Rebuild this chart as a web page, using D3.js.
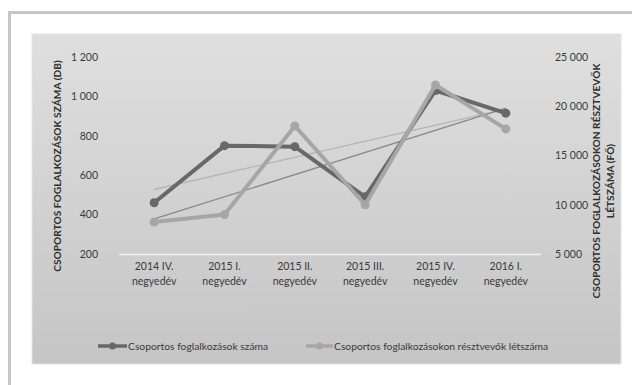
<!DOCTYPE html>
<html>
<head>
<meta charset="utf-8">
<script src="https://cdn.jsdelivr.net/npm/d3@7"></script>
<style>
  html, body { margin: 0; padding: 0; background: #fff; }
  svg { display: block; font-family: Lato, "Open Sans", sans-serif; }
</style>
</head>
<body>
<svg id="chart" width="632" height="385"></svg>
<script>
// Quarters on the x axis
const categories = [
  ["2014 IV.", "negyedév"],
  ["2015 I.", "negyedév"],
  ["2015 II.", "negyedév"],
  ["2015 III.", "negyedév"],
  ["2015 IV.", "negyedév"],
  ["2016 I.", "negyedév"]
];
// Number of group sessions (left axis, db)
const sessions = [460, 750, 745, 490, 1030, 915];
// Participants of group sessions (right axis, fő)
const participants = [8250, 9000, 18000, 10000, 22150, 17700];
const leftTicks = [200, 400, 600, 800, 1000, 1200];
const rightTicks = [5000, 10000, 15000, 20000, 25000];
const seriesNames = ["Csoportos foglalkozások száma", "Csoportos foglalkozásokon résztvevők létszáma"];

const svg = d3.select("#chart");
const fmt = v => d3.format(",")(v).replace(/,/g, " ");

// outer frame
svg.append("path")
  .attr("d", "M9.5,385 V12.5 H632")
  .attr("fill", "none").attr("stroke", "#c6c6c6").attr("stroke-width", 3);

// chart area background gradient
const defs = svg.append("defs");
const grad = defs.append("linearGradient").attr("id", "bg").attr("x1", 0).attr("y1", 0).attr("x2", 0).attr("y2", 1);
grad.append("stop").attr("offset", "0%").attr("stop-color", "#dfdfdf");
grad.append("stop").attr("offset", "100%").attr("stop-color", "#c5c5c5");
const soft = defs.append("filter").attr("id", "soft").attr("x", "-5%").attr("y", "-5%").attr("width", "110%").attr("height", "110%");
soft.append("feGaussianBlur").attr("stdDeviation", 0.6);

svg.append("rect").attr("x", 32).attr("y", 34).attr("width", 589).attr("height", 330)
  .attr("fill", "url(#bg)").attr("stroke", "#e4e4e4").attr("stroke-width", 1);

const x = d3.scaleBand().domain(d3.range(categories.length)).range([119, 541]);
const yL = d3.scaleLinear().domain([200, 1200]).range([254, 57]);
const yR = d3.scaleLinear().domain([5000, 25000]).range([254, 57]);
const cx = i => x(i) + x.bandwidth() / 2;

// baseline
svg.append("line").attr("x1", 119).attr("x2", 541).attr("y1", 254.5).attr("y2", 254.5)
  .attr("stroke", "#f2f2f2").attr("stroke-width", 1.5);

// left axis
const gL = svg.append("g").attr("transform", "translate(98,0)")
  .call(d3.axisLeft(yL).tickValues(leftTicks).tickFormat(fmt).tickSize(0).tickPadding(0));
gL.select(".domain").remove();
gL.selectAll("text").attr("fill", "#3a3a3a").attr("font-size", 10.5).style("font-family", "Lato, sans-serif");

// right axis
const gR = svg.append("g").attr("transform", "translate(555,0)")
  .call(d3.axisRight(yR).tickValues(rightTicks).tickFormat(fmt).tickSize(0).tickPadding(0));
gR.select(".domain").remove();
gR.selectAll("text").attr("fill", "#3a3a3a").attr("font-size", 10.5).style("font-family", "Lato, sans-serif");

// x labels
const gX = svg.append("g");
categories.forEach((c, i) => {
  const t = gX.append("text").attr("x", cx(i)).attr("y", 269.5).attr("text-anchor", "middle")
    .attr("fill", "#3a3a3a").attr("font-size", 10.5);
  t.append("tspan").attr("x", cx(i)).attr("dy", 0).text(c[0]);
  t.append("tspan").attr("x", cx(i)).attr("dy", 15).text(c[1]);
});

// axis titles
svg.append("text").attr("transform", "translate(61,166) rotate(-90)")
  .attr("text-anchor", "middle").attr("font-size", 10.2).attr("font-weight", "bold").attr("fill", "#2e2e2e")
  .text("CSOPORTOS FOGLALKOZÁSOK SZÁMA (DB)");
const rt = svg.append("text").attr("transform", "translate(600,181) rotate(-90)")
  .attr("text-anchor", "middle").attr("font-size", 10.2).attr("font-weight", "bold").attr("fill", "#2e2e2e");
rt.append("tspan").attr("x", 0).attr("dy", 0).text("CSOPORTOS FOGLALKOZÁSOKON RÉSZTVEVŐK");
rt.append("tspan").attr("x", 0).attr("dy", 14).text("LÉTSZÁMA (FŐ)");

// linear trend lines
function trend(vals) {
  const n = vals.length, mx = d3.mean(d3.range(n)), my = d3.mean(vals);
  const b = d3.sum(vals, (v, i) => (i - mx) * (v - my)) / d3.sum(d3.range(n), i => (i - mx) ** 2);
  const a = my - b * mx;
  return [a, a + b * (n - 1)];
}
const tS = trend(sessions), tP = trend(participants);
svg.append("line").attr("x1", cx(0)).attr("x2", cx(5)).attr("y1", yL(tS[0])).attr("y2", yL(tS[1]))
  .attr("stroke", "#b4b4b4").attr("stroke-width", 1.3);
svg.append("line").attr("x1", cx(0)).attr("x2", cx(5)).attr("y1", yR(tP[0])).attr("y2", yR(tP[1]))
  .attr("stroke", "#8a8a8a").attr("stroke-width", 1.3);

const line = d3.line().x((d, i) => cx(i));
const series = [
  { vals: sessions, y: yL, color: "#686868" },
  { vals: participants, y: yR, color: "#a6a6a6" }
];
series.forEach(s => {
  const g = svg.append("g").attr("filter", "url(#soft)");
  g.append("path").datum(s.vals).attr("d", line.y(d => s.y(d)))
    .attr("fill", "none").attr("stroke", s.color).attr("stroke-width", 4).attr("stroke-linejoin", "round");
  g.selectAll("circle").data(s.vals).join("circle")
    .attr("cx", (d, i) => cx(i)).attr("cy", d => s.y(d)).attr("r", 4.5).attr("fill", s.color);
});

// legend
const legend = [
  { x1: 98, x2: 127, tx: 128, color: "#686868", name: seriesNames[0] },
  { x1: 306, x2: 333, tx: 334, color: "#a6a6a6", name: seriesNames[1] }
];
legend.forEach(l => {
  const g = svg.append("g");
  g.append("line").attr("x1", l.x1).attr("x2", l.x2).attr("y1", 346).attr("y2", 346)
    .attr("stroke", l.color).attr("stroke-width", 3.5);
  g.append("circle").attr("cx", (l.x1 + l.x2) / 2).attr("cy", 346).attr("r", 3.5).attr("fill", l.color);
  g.append("text").attr("x", l.tx).attr("y", 349.5).attr("font-size", 10.3).attr("fill", "#3a3a3a").text(l.name);
});
</script>
</body>
</html>
